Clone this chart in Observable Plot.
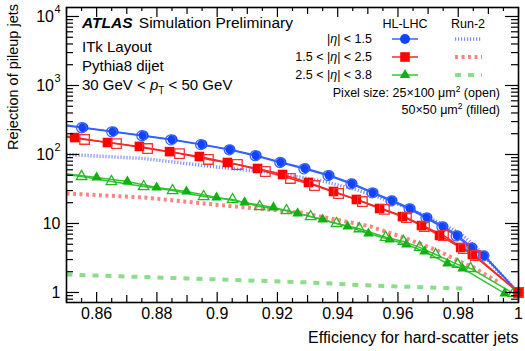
<!DOCTYPE html>
<html>
<head>
<meta charset="utf-8">
<script src="https://cdn.jsdelivr.net/npm/d3@7"></script>
<script src="https://cdn.jsdelivr.net/npm/@observablehq/plot@0.6"></script>
<style>
  html, body { margin: 0; padding: 0; background: #fff; }
  #chart svg { display: block; }
</style>
</head>
<body>
<div id="chart"></div>
<script>
// ---------------- DATA ----------------
// HL-LHC, |eta| < 1.5, 50x50 (filled) and 25x100 (open)
const effBlueFilled = [0.845, 0.8556, 0.8656, 0.8756, 0.8852, 0.8951, 0.9044, 0.9131, 0.9213, 0.9293, 0.9373, 0.9449, 0.9519, 0.9582, 0.9642, 0.9698, 0.9751, 0.9798, 0.9847, 0.9887, 1.0];
const rejBlueFilled = [285, 246, 215, 189, 165, 140, 118, 97, 77, 63, 50, 38, 28, 21.5, 16.5, 12.2, 9.05, 6.7, 4.5, 3.44, 1];
const effBlueOpen = [0.845, 0.8550, 0.8650, 0.8750, 0.8846, 0.8945, 0.9040, 0.9126, 0.9208, 0.9288, 0.9368, 0.9444, 0.9514, 0.9577, 0.9637, 0.9693, 0.9746, 0.9793, 0.9842, 0.9884, 1.0];
const rejBlueOpen = [280, 244, 213, 187, 163, 139, 117, 96, 76.5, 62, 49.5, 37.5, 27.8, 21.2, 16.3, 12.0, 8.9, 6.6, 4.4, 3.4, 1];
// HL-LHC, 1.5 < |eta| < 2.5
const effRedFilled = [0.845, 0.8527, 0.8636, 0.8742, 0.8842, 0.8941, 0.9034, 0.9134, 0.9217, 0.9303, 0.9386, 0.9462, 0.9539, 0.9615, 0.9678, 0.9738, 0.9808, 0.9847, 1.0];
const rejRedFilled = [200, 176, 149, 131, 110, 93.5, 76.6, 62.7, 51.3, 39.3, 29.1, 22.3, 16.5, 12.6, 9.35, 6.7, 4.49, 3.55, 1];
const effRedOpen = [0.845, 0.8560, 0.8666, 0.8769, 0.8875, 0.8971, 0.9067, 0.9160, 0.9243, 0.9323, 0.9403, 0.9482, 0.9555, 0.9628, 0.9688, 0.9751, 0.9817, 0.9857, 1.0];
const rejRedOpen = [192, 165, 144, 122, 103, 84.7, 71.6, 56.7, 44.9, 35.5, 27.2, 20.8, 16.0, 12.2, 9.05, 6.7, 4.34, 3.44, 1];
// HL-LHC, 2.5 < |eta| < 3.8
const effGreenFilled = [0.845, 0.8600, 0.8702, 0.8799, 0.8898, 0.8998, 0.9091, 0.9187, 0.9267, 0.9350, 0.9433, 0.9502, 0.9572, 0.9628, 0.9688, 0.9764, 0.9814, 0.9954];
const rejGreenFilled = [56, 46.4, 40.6, 33.2, 29.1, 23.8, 20.2, 17.1, 14.0, 11.4, 9.05, 7.16, 5.86, 4.96, 3.93, 2.63, 2.23, 0.97];
const effGreenOpen = [0.845, 0.8550, 0.8649, 0.8756, 0.8852, 0.8955, 0.9051, 0.9141, 0.9230, 0.9310, 0.9396, 0.9472, 0.9559, 0.9618, 0.9672, 0.9725, 0.9798, 0.9841, 0.9983];
const rejGreenOpen = [55, 48.0, 40.6, 34.3, 30.0, 24.6, 22.2, 17.6, 15.4, 12.6, 10.0, 8.4, 6.3, 5.5, 4.5, 3.55, 2.55, 2.23, 0.97];
// Run-2 curves
const effRun2Blue = [0.85, 0.8756, 0.9011, 0.9177, 0.9343, 0.9453, 0.9519, 0.9629, 0.9742, 0.9808, 0.9860, 0.9930, 1.0];
const rejRun2Blue = [100, 87.5, 64.8, 54.8, 42, 31.6, 25.5, 17.1, 10, 7.16, 4.49, 2.08, 1];
const effRun2Red = [0.85, 0.8759, 0.9024, 0.9277, 0.9509, 0.9619, 0.9731, 0.9798, 0.9851, 0.9930];
const rejRun2Red = [27.2, 23.8, 18.2, 14.4, 9.05, 6.27, 4.06, 2.91, 2.3, 1.45];
const effRun2Green = [0.85, 0.8898, 0.9303, 0.9509, 0.9817];
const rejRun2Green = [1.82, 1.60, 1.40, 1.26, 1.14];

// Tick labels
const xTickValues = [0.86, 0.88, 0.9, 0.92, 0.94, 0.96, 0.98, 1.0];
const xTickLabels = ["0.86", "0.88", "0.9", "0.92", "0.94", "0.96", "0.98", "1"];
const yTickValues = [1, 10, 100, 1000, 10000];
const yTickBase = ["1", "10", "10", "10", "10"];
const yTickExp = ["", "", "2", "3", "4"];

// ---------------- LAYOUT / STYLE ----------------
const FONT = "'Liberation Sans', Arial, Helvetica, sans-serif";
const W = 525, H = 351;
const mTop = 7, mRight = 7, mBottom = 49, mLeft = 66;
const innerW = W - mLeft - mRight, innerH = H - mTop - mBottom;

const C = {
  blue: "#1244ff", blueLine: "#3362ff", blueOpen: "#3a66ff",
  red: "#ff0000", redLine: "#ff2626", redOpen: "#ff3030",
  green: "#10b010", greenLine: "#33c433", greenOpen: "#22b822",
  r2blue: "#7f8eff", r2red: "#ff8585", r2green: "#8ade8a"
};
const DASH = {blue: "1.2,1.8", red: "3,3.5", green: "6,7"};

const zip = (xs, ys) => xs.map((x, i) => ({eff: x, rej: ys[i]}));
const blueFilled = zip(effBlueFilled, rejBlueFilled);
const blueOpen = zip(effBlueOpen, rejBlueOpen);
const redFilled = zip(effRedFilled, rejRedFilled);
const redOpen = zip(effRedOpen, rejRedOpen);
const greenFilled = zip(effGreenFilled, rejGreenFilled);
const greenOpen = zip(effGreenOpen, rejGreenOpen);
const run2Blue = zip(effRun2Blue, rejRun2Blue);
const run2Red = zip(effRun2Red, rejRun2Red);
const run2Green = zip(effRun2Green, rejRun2Green);
const inFrame = d => d.eff >= 0.85;

// tick positions
const xMid = d3.range(85, 101).map(i => i / 100).filter(v => !xTickValues.some(t => Math.abs(t - v) < 1e-9));
const xMinor = d3.range(171, 200, 2).map(i => i / 200);
const yDomain = [0.716, 13500];
const yMinor = [];
[0.1, 1, 10, 100, 1000].forEach(d => { for (let k = 2; k <= 9; k++) { const v = k * d; if (v > yDomain[0] && v < yDomain[1]) yMinor.push(v); } });

const xTickRules = (vals, len) => [
  Plot.ruleX(vals, {x: d => d, insetTop: innerH - len, stroke: "#000", strokeWidth: 1.2}),
  Plot.ruleX(vals, {x: d => d, insetBottom: innerH - len, stroke: "#000", strokeWidth: 1.2})
];
const yTickRules = (vals, len) => [
  Plot.ruleY(vals, {y: d => d, insetRight: innerW - len, stroke: "#000", strokeWidth: 1.2}),
  Plot.ruleY(vals, {y: d => d, insetLeft: innerW - len, stroke: "#000", strokeWidth: 1.2})
];

const line = (data, stroke, extra = {}) => Plot.line(data, {x: "eff", y: "rej", stroke, strokeWidth: 1.5, clip: true, ...extra});
const dashed = (data, stroke, width, dash) => line(data, stroke, {strokeWidth: width, strokeDasharray: dash, strokeLinecap: "butt", strokeLinejoin: "miter"});
const dots = (data, symbol, r, filled, color) => Plot.dot(data.filter(inFrame), {
  x: "eff", y: "rej", symbol, r,
  fill: filled ? color : "none",
  stroke: filled ? "none" : color,
  strokeWidth: filled ? 0 : 1.3
});

const expIdx = yTickValues.map((v, i) => i).filter(i => yTickExp[i]);
const plainIdx = yTickValues.map((v, i) => i).filter(i => !yTickExp[i]);

const chart = Plot.plot({
  width: W, height: H,
  marginTop: mTop, marginRight: mRight, marginBottom: mBottom, marginLeft: mLeft,
  style: {fontFamily: FONT, background: "#fff", overflow: "visible"},
  x: {domain: [0.85, 1.0], axis: null},
  y: {type: "log", domain: yDomain, axis: null},
  marks: [
    // Run-2
    dashed(run2Green, C.r2green, 4, DASH.green),
    dashed(run2Red, C.r2red, 4, DASH.red),
    dashed(run2Blue, C.r2blue, 3.5, DASH.blue),
    // HL-LHC lines
    line(greenOpen, C.greenLine),
    line(greenFilled, C.greenLine),
    line(blueOpen, C.blueLine),
    line(blueFilled, C.blueLine),
    line(redOpen, C.redLine),
    line(redFilled, C.redLine),
    // markers
    dots(greenFilled, "triangle", 3.9, true, C.green),
    dots(greenOpen, "triangle", 3.9, false, C.greenOpen),
    dots(blueFilled, "circle", 5, true, C.blue),
    dots(blueOpen, "circle", 5, false, C.blueOpen),
    dots(redFilled, "square", 5.4, true, C.red),
    dots(redOpen, "square", 5.4, false, C.redOpen),
    // frame + ticks
    Plot.frame({stroke: "#000", strokeWidth: 1.6}),
    ...xTickRules(xTickValues, 10),
    ...xTickRules(xMid, 7),
    ...xTickRules(xMinor, 4),
    ...yTickRules(yTickValues, 13),
    ...yTickRules(yMinor, 7),
    // tick labels
    Plot.text(xTickValues, {x: d => d, text: (d, i) => xTickLabels[i], frameAnchor: "bottom", lineAnchor: "top", dy: 5, fontSize: 16, fill: "#000"}),
    Plot.text(plainIdx, {y: i => yTickValues[i], text: i => yTickBase[i], frameAnchor: "left", textAnchor: "end", dx: -6, fontSize: 16, fill: "#000"}),
    Plot.text(expIdx, {y: i => yTickValues[i], text: i => yTickBase[i], frameAnchor: "left", textAnchor: "end", dx: -12.5, fontSize: 16, fill: "#000"}),
    Plot.text(expIdx, {y: i => yTickValues[i], text: i => yTickExp[i], frameAnchor: "left", textAnchor: "end", dx: -6, dy: -7, fontSize: 11, fill: "#000"}),
    // axis titles
    Plot.text(["Efficiency for hard-scatter jets"], {frameAnchor: "bottom-right", textAnchor: "end", dy: 40, fontSize: 16, fill: "#000"})
  ]
});
document.getElementById("chart").appendChild(chart);

// ---------------- annotations & legend ----------------
const svg = d3.select(chart);
const g = svg.append("g").attr("font-family", FONT).attr("fill", "#000").attr("text-anchor", "start");

// y axis title
g.append("text").attr("transform", "translate(18,4) rotate(-90)").attr("text-anchor", "end")
  .attr("font-size", 14.5).text("Rejection of pileup jets");

// ATLAS block
const t1 = g.append("text").attr("x", 82).attr("y", 28).attr("font-size", 15.5);
t1.append("tspan").attr("font-weight", "bold").attr("font-style", "italic").text("ATLAS");
t1.append("tspan").attr("dx", 2).text(" Simulation Preliminary");
g.append("text").attr("x", 82).attr("y", 52).attr("font-size", 15).text("ITk Layout");
g.append("text").attr("x", 82).attr("y", 71).attr("font-size", 15).text("Pythia8 dijet");
const t4 = g.append("text").attr("x", 82).attr("y", 90).attr("font-size", 15);
t4.append("tspan").text("30 GeV < ");
t4.append("tspan").attr("font-style", "italic").text("p");
t4.append("tspan").attr("font-size", 10).attr("dy", 4).text("T");
t4.append("tspan").attr("dy", -4).text(" < 50 GeV");

// legend
const LF = 12.5;
g.append("text").attr("x", 405).attr("y", 28).attr("text-anchor", "middle").attr("font-size", LF).text("HL-LHC");
g.append("text").attr("x", 468).attr("y", 28).attr("text-anchor", "middle").attr("font-size", LF).text("Run-2");
const rows = [
  {pre: "|", post: "| < 1.5", y: 43, color: C.blue, lineColor: C.blueLine, sym: d3.symbolCircle, area: Math.PI * 25, r2: C.r2blue, dash: DASH.blue, w: 3.5},
  {pre: "1.5 < |", post: "| < 2.5", y: 61, color: C.red, lineColor: C.redLine, sym: d3.symbolSquare, area: Math.PI * 5.4 * 5.4, r2: C.r2red, dash: DASH.red, w: 4},
  {pre: "2.5 < |", post: "| < 3.8", y: 79, color: C.green, lineColor: C.greenLine, sym: d3.symbolTriangle, area: Math.PI * 3.9 * 3.9, r2: C.r2green, dash: DASH.green, w: 4}
];
rows.forEach(r => {
  const t = g.append("text").attr("x", 372).attr("y", r.y).attr("text-anchor", "end").attr("font-size", LF);
  t.append("tspan").text(r.pre);
  t.append("tspan").attr("font-style", "italic").text("η");
  t.append("tspan").text(r.post);
  const cy = r.y - 4;
  g.append("line").attr("x1", 392).attr("x2", 418).attr("y1", cy).attr("y2", cy).attr("stroke", r.lineColor).attr("stroke-width", 1.5);
  g.append("path").attr("d", d3.symbol(r.sym, r.area)()).attr("transform", `translate(405,${cy})`).attr("fill", r.color);
  g.append("line").attr("x1", 455).attr("x2", 482).attr("y1", cy).attr("y2", cy).attr("stroke", r.r2).attr("stroke-width", r.w).attr("stroke-dasharray", r.dash);
});
const p1 = g.append("text").attr("x", 500).attr("y", 97).attr("text-anchor", "end").attr("font-size", LF);
p1.append("tspan").text("Pixel size: 25×100 μm");
p1.append("tspan").attr("font-size", 8.5).attr("dy", -5).text("2");
p1.append("tspan").attr("dy", 5).text(" (open)");
const p2 = g.append("text").attr("x", 500).attr("y", 114).attr("text-anchor", "end").attr("font-size", LF);
p2.append("tspan").text("50×50 μm");
p2.append("tspan").attr("font-size", 8.5).attr("dy", -5).text("2");
p2.append("tspan").attr("dy", 5).text(" (filled)");
</script>
</body>
</html>
